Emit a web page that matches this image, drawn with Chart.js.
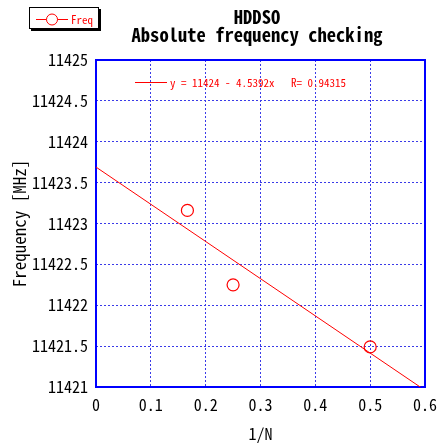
<!DOCTYPE html>
<html>
<head>
<meta charset="utf-8">
<script src="https://cdn.jsdelivr.net/npm/chart.js@4.4.1/dist/chart.umd.min.js"></script>
<style>
  body { margin: 0; background: #fff; }
  canvas { display: block; }
</style>
</head>
<body>
<canvas id="myChart" width="441" height="447"></canvas>
<script>
'use strict';

// measured points (1/N vs frequency)
const invN = [0.1667, 0.25, 0.5];
const freq = [11423.16, 11422.25, 11421.49];
// fitted line end points, y = 11424 - 4.5392x
const fitX = [0, 0.6];
const fitY = [11423.69, 11420.96];
const xTickLabels = ['0', '0.1', '0.2', '0.3', '0.4', '0.5', '0.6'];
const fitText = 'y = 11424 - 4.5392x   R= 0.94315';
const titleLines = ['HDDSO', 'Absolute frequency checking'];

const FONT = "'Noto Sans Mono CJK JP', 'Noto Sans CJK JP', 'DejaVu Sans Mono', monospace";

(function () {
  // frame, title, legend box and fit label
  const decor = {
    id: 'decor',
    beforeDatasetsDraw(chart) {
      const ctx = chart.ctx, a = chart.chartArea;
      ctx.save();
      ctx.strokeStyle = '#0000ff';
      ctx.lineWidth = 2;
      ctx.strokeRect(a.left, a.top, a.right - a.left, a.bottom - a.top);
      ctx.restore();
    },
    afterDraw(chart) {
      const ctx = chart.ctx;
      ctx.save();
      // title
      ctx.fillStyle = '#000';
      ctx.textAlign = 'center';
      ctx.textBaseline = 'alphabetic';
      ctx.font = 'bold 18.6px ' + FONT;
      ctx.fillText(titleLines[0], 257, 24);
      ctx.fillText(titleLines[1], 257, 42);

      // legend box with shadow
      ctx.fillStyle = '#000';
      ctx.fillRect(31, 9, 70, 22);
      ctx.fillStyle = '#fff';
      ctx.fillRect(29, 7, 70, 22);
      ctx.strokeStyle = '#000';
      ctx.lineWidth = 1;
      ctx.strokeRect(29.5, 7.5, 69, 21);
      ctx.strokeStyle = '#ff0000';
      ctx.beginPath();
      ctx.moveTo(36, 19.5); ctx.lineTo(68, 19.5);
      ctx.stroke();
      ctx.fillStyle = '#fff';
      ctx.beginPath();
      ctx.arc(52, 19.5, 5.5, 0, Math.PI * 2);
      ctx.fill(); ctx.stroke();
      ctx.fillStyle = '#ff0000';
      ctx.textAlign = 'left';
      ctx.textBaseline = 'middle';
      ctx.font = '11px ' + FONT;
      ctx.fillText('Freq', 71, 19.5);

      // fit label
      ctx.beginPath();
      ctx.moveTo(135, 82.5); ctx.lineTo(167, 82.5);
      ctx.stroke();
      ctx.fillText(fitText, 170, 82.5);
      ctx.restore();
    }
  };

  const ctx = document.getElementById('myChart');
  new Chart(ctx, {
    type: 'scatter',
    data: {
      datasets: [{
        label: 'Freq',
        data: invN.map((x, i) => ({ x: x, y: freq[i] })),
        showLine: false,
        pointStyle: 'circle',
        pointRadius: 6,
        pointBorderWidth: 1.2,
        pointBorderColor: '#ff0000',
        pointBackgroundColor: 'rgba(255,255,255,0)'
      }, {
        label: 'fit',
        data: fitX.map((x, i) => ({ x: x, y: fitY[i] })),
        showLine: true,
        borderColor: '#ff0000',
        borderWidth: 1,
        pointRadius: 0
      }]
    },
    options: {
      responsive: false,
      animation: false,
      layout: { padding: { top: 60, right: 16, left: 0, bottom: 0 } },
      plugins: { legend: { display: false }, title: { display: false }, tooltip: { enabled: false } },
      scales: {
        x: {
          type: 'linear',
          min: 0, max: 0.6,
          afterFit: function (s) { s.height = 60; s.paddingLeft = 0; s.paddingRight = 0; },
          grid: { color: '#3a3ae8', borderDash: [2, 2], lineWidth: 1, drawTicks: false },
          border: { display: false, dash: [2, 2] },
          ticks: {
            stepSize: 0.1, padding: 8, color: '#000',
            font: { family: FONT, size: 16 },
            callback: function (v, i) { return xTickLabels[i]; }
          },
          title: { display: true, text: '1/N', color: '#000', font: { family: FONT, size: 16 }, padding: { top: 0, bottom: 3 } }
        },
        y: {
          type: 'linear',
          min: 11421, max: 11425,
          afterFit: function (s) { s.width = 96; s.paddingTop = 0; s.paddingBottom = 0; },
          grid: { color: '#3a3ae8', borderDash: [2, 2], lineWidth: 1, drawTicks: false },
          border: { display: false, dash: [2, 2] },
          ticks: {
            stepSize: 0.5, padding: 8, color: '#000',
            font: { family: FONT, size: 16 },
            callback: function (v) { return String(v); }
          },
          title: { display: true, text: 'Frequency [MHz]', color: '#000', font: { family: FONT, size: 17 }, padding: { top: 9, bottom: 0 } }
        }
      }
    },
    plugins: [decor]
  });
})();
</script>
</body>
</html>
